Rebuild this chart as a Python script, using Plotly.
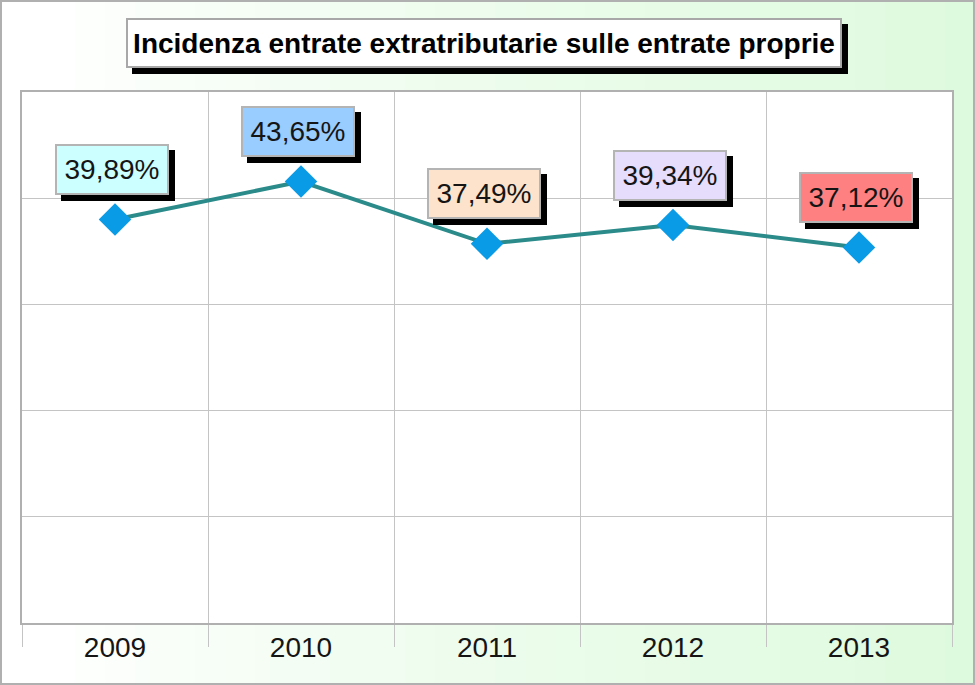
import plotly.graph_objects as go

# data
years = ["2009", "2010", "2011", "2012", "2013"]
incidenza = [39.89, 43.65, 37.49, 39.34, 37.12]

# style
LABEL_FILLS = ["#ccffff", "#99ccff", "#fde3cb", "#e6dcfc", "#ff8080"]
LINE_COLOR = "#2b8a8a"
MARKER_COLOR = "#0a9be6"
GRID = "#c4c4c4"
BORDER = "#b0b0b0"
FONT = "Liberation Sans, Arial, sans-serif"

W, H = 975, 685
ML, MR, MT, MB = 22, 23, 92, 62
PW, PH = W - ML - MR, H - MT - MB


def px_x(px):
    return (px - ML) / PW


def px_y(py):
    return (H - MB - py) / PH


fig = go.Figure()
fig.add_trace(go.Scatter(
    x=years, y=incidenza, mode="lines+markers",
    line={"color": LINE_COLOR, "width": 4},
    marker={"symbol": "diamond", "size": 25, "color": MARKER_COLOR,
            "line": {"width": 0}},
    hoverinfo="skip", showlegend=False,
))

# background gradient (white on the left -> light green on the right)
shapes = []
n = 65
for i in range(n):
    t = i / (n - 1)
    k = max(0.0, (t - 0.05) / 0.95) ** 0.8
    r = round(255 - k * 33)
    g = round(255 - k * 5)
    b = round(255 - k * 33)
    x0 = i * W / n
    x1 = (i + 1) * W / n + 1
    shapes.append(dict(type="rect", xref="paper", yref="paper", layer="below",
                       x0=px_x(x0), x1=px_x(x1), y0=px_y(H), y1=px_y(0),
                       line={"width": 0}, fillcolor=f"rgb({r},{g},{b})"))
# white plot area on top of the gradient
shapes.append(dict(type="rect", xref="paper", yref="paper", layer="below",
                   x0=0, x1=1, y0=0, y1=1, line={"width": 0}, fillcolor="white"))
# outer border of the chart
shapes.append(dict(type="rect", xref="paper", yref="paper", layer="above",
                   x0=px_x(1), x1=px_x(W - 1), y0=px_y(H - 1), y1=px_y(1),
                   line={"color": BORDER, "width": 2}))

annotations = []
# title with drop shadow (shadow is an empty box of the same size)
title = "Incidenza entrate extratributarie sulle entrate proprie"
for txt, dx, dy, bg, bc in [(" ", 6, -6, "black", "black"),
                            (f"<b>{title}</b>", 0, 0, "white", "#a8a8a8")]:
    annotations.append(dict(
        text=txt, xref="paper", yref="paper",
        x=px_x(484), y=px_y(43), xanchor="center", yanchor="middle",
        xshift=dx, yshift=dy, showarrow=False,
        width=712, height=46, borderpad=0,
        bgcolor=bg, bordercolor=bc, borderwidth=2,
        font={"family": FONT, "size": 28, "color": "black"},
    ))

# data labels with drop shadow (category axis -> position by index)
for i, (v, fill) in enumerate(zip(incidenza, LABEL_FILLS)):
    lbl = f"{v:.2f}".replace(".", ",") + "%"
    for txt, dx, dy, bg, bc in [(" ", 6, -6, "black", "black"),
                                (lbl, 0, 0, fill, "#b4b4b4")]:
        annotations.append(dict(
            text=txt, x=i, y=v, xref="x", yref="y",
            xanchor="center", yanchor="middle",
            xshift=-3 + dx, yshift=50 + dy, showarrow=False,
            width=110, height=47, borderpad=0,
            bgcolor=bg, bordercolor=bc, borderwidth=2,
            font={"family": FONT, "size": 28, "color": "#151515"},
        ))

fig.update_layout(
    width=W, height=H,
    margin={"l": ML, "r": MR, "t": MT, "b": MB, "pad": 0},
    paper_bgcolor="white", plot_bgcolor="white",
    font={"family": FONT, "color": "black"},
    shapes=shapes, annotations=annotations,
    xaxis={"type": "category", "range": [-0.5, 4.5], "autorange": False,
           "tickson": "boundaries", "ticks": "outside",
           "ticklen": 22, "tickcolor": GRID, "tickwidth": 1,
           "showgrid": True, "gridcolor": GRID, "gridwidth": 1,
           "showline": True, "linecolor": BORDER, "linewidth": 2, "mirror": True,
           "tickfont": {"family": FONT, "size": 28, "color": "#151515"},
           "tickangle": 0, "ticklabelstandoff": -2,
           "automargin": False, "fixedrange": True},
    yaxis={"range": [0, 52.5], "autorange": False, "dtick": 10.5, "tick0": 0,
           "showticklabels": False, "ticks": "",
           "showgrid": True, "gridcolor": GRID, "gridwidth": 1,
           "zeroline": False,
           "showline": True, "linecolor": BORDER, "linewidth": 2, "mirror": True,
           "automargin": False, "fixedrange": True},
)

# the page's default body margin would shift the chart by 8px
fig.write_html("out.html", config={"displayModeBar": False},
               post_script="document.body.style.margin='0';")
